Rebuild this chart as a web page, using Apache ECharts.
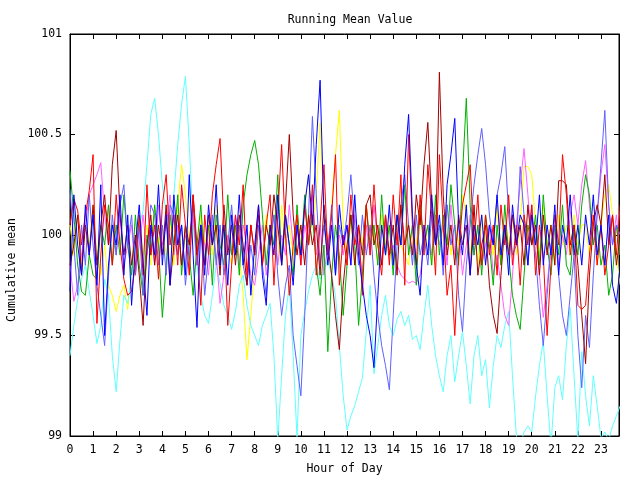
<!DOCTYPE html>
<html>
<head>
<meta charset="utf-8">
<script src="https://cdn.jsdelivr.net/npm/echarts@6/dist/echarts.min.js"></script>
<style>
html,body{margin:0;padding:0;background:#fff;}
#chart{width:640px;height:480px;}
</style>
</head>
<body>
<div id="chart"></div>
<script>
// samples every 10 minutes, hour = index / 6
var stepsPerHour = 6;
var hourTicks = [0,1,2,3,4,5,6,7,8,9,10,11,12,13,14,15,16,17,18,19,20,21,22,23];
var meanTicks = [99, 99.5, 100, 100.5, 101];

var red = [
100.05,100.18,100.12,99.95,100.10,100.22,100.40,99.56,99.90,100.15,100.05,99.85,
100.20,99.95,99.78,99.70,99.72,99.85,100.10,99.80,100.25,99.90,100.05,99.78,
100.15,100.30,99.95,100.10,99.85,100.25,100.05,99.80,100.20,99.95,99.65,100.10,
99.90,100.20,100.35,100.48,100.05,99.55,99.85,100.10,99.95,100.25,99.80,100.05,
99.90,100.15,99.85,100.05,100.20,99.75,100.10,100.45,100.00,99.70,99.95,100.10,
99.85,100.15,99.95,100.25,99.80,100.05,100.35,99.90,100.10,100.40,99.75,100.00,
99.85,100.20,99.95,100.05,99.70,100.15,99.90,100.25,99.95,99.80,100.10,99.85,
100.20,99.95,100.30,99.75,100.50,100.05,99.85,100.20,99.90,100.35,100.10,99.80,
100.40,100.05,99.70,99.85,99.50,99.90,100.15,100.25,100.35,99.95,100.20,99.85,
100.10,99.90,100.05,99.80,100.15,99.95,100.20,99.85,100.05,99.75,100.10,99.95,
100.15,99.80,100.05,99.90,99.50,99.85,100.10,99.95,100.40,100.20,99.90,100.05,
99.65,99.63,99.65,99.90,100.10,99.85,100.05,99.80,99.95,100.10,99.90,100.15];

var green = [
100.32,100.10,99.85,99.72,99.70,99.90,99.80,99.78,100.05,99.95,100.15,99.85,
100.05,99.90,100.20,99.95,99.80,100.10,99.85,99.70,100.00,99.90,100.15,99.95,
99.59,99.85,100.10,99.95,100.20,99.80,100.05,99.90,99.70,99.95,100.15,99.85,
100.05,99.75,100.10,99.95,99.85,100.20,99.90,100.05,99.80,100.15,100.30,100.40,
100.47,100.35,100.10,99.85,100.05,99.95,100.30,99.85,100.10,99.95,99.80,100.15,
99.90,100.20,99.95,100.10,99.85,99.70,99.95,99.42,99.80,100.05,99.90,99.60,
99.85,100.10,99.95,99.55,99.80,100.15,99.95,100.05,99.85,100.20,99.90,100.05,
99.80,100.10,99.95,100.25,99.90,100.05,99.75,100.15,99.95,100.05,99.85,100.20,
99.90,100.10,99.95,100.25,100.05,99.85,100.30,100.68,100.15,99.90,100.05,99.80,
100.10,99.95,99.75,100.05,99.85,100.15,99.90,99.70,99.60,99.53,99.80,100.05,
99.95,100.10,99.85,100.20,99.95,99.80,100.05,99.90,100.15,99.85,99.80,100.05,
99.90,100.15,100.30,100.20,99.95,100.05,99.85,99.95,99.70,99.80,100.05,99.90];

var blue = [
99.72,100.20,99.95,99.80,100.15,99.90,100.10,99.75,100.25,99.50,99.85,100.05,
99.95,100.20,99.80,100.10,99.65,99.95,100.15,99.85,99.60,100.05,99.90,100.25,
99.85,100.10,99.75,100.20,99.95,100.05,99.80,100.30,99.90,99.54,100.05,99.80,
100.15,99.95,100.25,99.85,100.05,99.75,100.10,99.90,100.20,99.85,100.05,99.70,
99.95,100.15,99.80,99.65,100.05,99.90,100.20,99.85,100.10,99.95,99.75,100.05,
99.90,100.15,100.30,100.05,100.45,100.77,100.10,99.85,100.05,99.80,100.15,99.95,
100.05,99.85,100.20,99.90,99.75,99.60,99.50,99.34,99.70,100.05,99.90,100.15,
99.85,100.10,99.95,100.35,100.60,100.10,99.85,99.70,100.05,99.90,100.20,99.95,
100.10,99.85,100.25,100.40,100.58,100.05,99.90,100.15,99.80,100.05,99.95,100.10,
99.85,100.05,99.95,100.20,99.90,100.05,99.80,100.15,99.95,100.10,100.05,99.85,
100.10,99.95,100.20,99.85,100.05,99.90,100.15,99.80,100.05,99.95,100.20,99.90,
100.05,99.85,100.10,99.95,100.20,99.90,100.05,99.85,100.10,99.75,99.66,99.85];

var magenta = [
99.85,99.67,99.75,99.90,100.05,100.20,100.25,100.30,100.36,100.10,99.95,100.05,
99.90,100.10,99.85,99.95,100.05,99.80,99.95,100.10,99.90,100.05,99.85,100.15,
99.95,100.05,100.20,99.90,100.05,99.85,100.00,99.90,100.10,99.85,100.05,99.95,
99.80,100.05,99.90,99.66,99.80,100.00,99.90,100.10,99.85,100.05,99.95,99.80,
99.75,99.90,100.05,99.80,99.95,100.10,99.85,100.00,99.90,100.15,99.95,100.05,
99.85,100.05,99.95,100.20,99.90,100.05,99.80,99.95,100.10,99.85,100.00,99.90,
100.05,99.85,100.10,99.95,99.80,100.05,99.90,100.15,99.95,99.85,100.05,99.90,
99.95,99.85,99.80,99.78,99.76,99.77,99.76,99.80,99.95,100.05,99.90,100.10,
99.95,100.05,99.85,100.15,99.90,100.05,99.80,99.95,100.10,99.90,100.05,99.85,
99.95,100.05,99.80,99.90,99.75,99.60,99.55,99.80,100.05,100.25,100.43,100.20,
99.95,100.05,99.80,99.59,99.75,99.95,100.05,99.85,100.00,99.90,100.10,100.20,
100.05,100.25,100.37,100.15,99.95,100.10,100.30,100.45,100.15,99.95,100.10,99.90];

var cyan = [
99.40,99.55,99.68,99.78,99.85,99.72,99.60,99.46,99.55,99.78,99.70,99.40,
99.22,99.48,99.70,99.66,99.80,99.95,100.05,100.12,100.35,100.60,100.68,100.50,
100.25,100.10,100.05,100.20,100.45,100.65,100.79,100.45,100.05,99.85,99.70,99.60,
99.56,99.70,99.85,99.76,99.65,99.60,99.53,99.62,99.75,99.80,99.65,99.55,
99.50,99.45,99.55,99.60,99.66,99.40,98.98,99.30,99.60,99.75,99.40,98.99,
99.50,99.62,99.72,99.80,99.85,99.78,99.82,99.88,99.80,99.70,99.45,99.20,
99.03,99.10,99.15,99.22,99.29,99.52,99.75,99.31,99.45,99.60,99.70,99.55,
99.50,99.58,99.62,99.55,99.60,99.48,99.50,99.43,99.60,99.75,99.55,99.40,
99.30,99.22,99.40,99.50,99.27,99.40,99.52,99.35,99.16,99.40,99.50,99.30,
99.38,99.14,99.35,99.50,99.44,99.55,99.62,99.30,99.00,98.95,99.02,99.05,
99.02,99.20,99.35,99.47,99.20,98.95,99.24,99.30,99.18,99.45,99.64,99.30,
98.98,99.42,99.20,99.05,99.30,99.15,98.99,99.02,98.98,99.05,99.10,99.15];

var darkred = [
99.85,99.95,100.10,99.80,100.05,99.90,100.15,99.85,100.05,100.20,99.95,100.35,
100.52,100.10,99.90,100.05,99.85,100.00,99.80,99.55,99.95,100.10,99.85,100.05,
99.90,100.15,99.75,99.95,100.10,99.85,100.05,99.95,100.20,99.90,100.05,99.85,
100.10,99.95,100.05,99.80,100.15,99.90,100.05,99.85,100.10,99.95,99.75,100.05,
99.90,100.10,99.85,100.05,99.95,100.20,100.05,99.85,100.15,100.50,100.10,99.90,
100.05,99.85,100.10,99.95,100.05,99.80,100.15,99.95,99.80,99.60,99.43,99.75,
99.95,100.10,99.85,100.05,99.90,100.15,100.20,99.95,100.05,99.85,100.10,99.90,
100.05,99.80,100.15,99.95,100.05,99.90,100.20,100.05,100.35,100.56,100.15,99.95,
100.81,100.20,99.90,100.05,99.85,100.10,99.95,100.05,99.80,100.15,99.80,99.95,
100.05,99.75,99.60,99.51,99.80,100.05,99.90,100.10,99.95,100.05,99.85,100.15,
99.95,100.05,99.80,100.10,99.90,100.05,99.85,100.27,100.27,100.25,99.95,100.05,
99.85,99.60,99.36,99.80,100.05,100.15,100.05,100.30,99.95,100.10,99.85,100.00];

var yellow = [
100.05,99.90,100.10,99.85,100.05,99.95,100.15,99.90,99.80,99.95,99.75,99.70,
99.62,99.70,99.75,99.63,99.80,99.95,100.10,99.90,100.05,99.85,100.15,99.95,
100.05,99.90,100.10,99.85,100.15,100.35,100.20,99.95,100.05,99.85,100.10,99.95,
100.05,99.90,100.15,99.85,100.05,99.95,99.85,100.05,99.90,99.70,99.38,99.60,
99.85,100.05,99.90,100.10,99.95,100.05,99.85,100.15,99.95,100.05,99.90,100.10,
99.95,100.15,100.30,100.05,100.20,100.56,100.10,99.90,100.15,100.40,100.62,100.05,
99.90,100.10,99.85,100.05,99.95,100.15,99.90,100.05,99.85,100.10,99.95,100.05,
99.90,100.10,99.95,99.90,99.85,100.05,99.95,100.15,99.90,100.05,99.85,100.10,
99.95,100.05,100.15,99.90,100.05,99.95,100.20,100.10,99.90,100.05,99.85,100.10,
99.95,100.05,99.90,100.15,99.85,100.05,99.95,100.10,99.90,100.05,100.34,100.34,
100.30,100.05,99.90,100.15,99.95,100.05,99.85,100.10,99.95,100.05,99.90,100.10,
99.95,100.05,100.05,99.90,100.10,99.85,100.05,100.20,100.25,100.10,99.90,99.75];

var slate = [
100.23,99.95,99.70,100.05,99.85,100.20,99.95,99.75,99.60,99.45,99.80,100.10,
99.90,100.15,100.25,99.95,100.10,99.80,100.05,99.70,99.90,100.15,100.10,99.85,
100.05,99.80,100.15,100.10,99.90,100.05,99.75,99.95,100.15,99.85,100.05,99.70,
99.90,100.10,99.85,100.05,99.80,99.95,100.15,99.90,100.05,99.85,99.75,99.95,
99.80,100.05,99.85,99.70,99.95,100.10,99.80,99.60,99.75,99.85,99.50,99.35,
99.20,99.60,100.10,100.59,100.20,99.85,100.05,99.90,100.15,99.80,100.05,99.95,
100.10,100.30,100.05,99.85,100.10,99.90,100.05,99.80,99.60,99.45,99.35,99.23,
99.60,99.95,100.15,100.30,100.05,99.85,100.10,99.90,100.00,99.85,100.10,99.95,
100.05,99.80,100.15,99.95,100.05,99.70,99.52,99.85,100.05,100.25,100.40,100.53,
100.35,100.10,99.95,100.20,100.30,100.44,100.10,99.90,99.95,100.34,100.10,99.85,
100.15,99.90,99.65,99.45,99.70,99.95,100.05,99.80,99.60,99.50,99.70,99.90,
99.50,99.24,99.60,99.44,99.80,100.10,100.35,100.62,100.15,99.95,100.05,100.00];

// drawing order: first listed lies underneath
var seriesList = [
    {name:'yellow', data:yellow, color:'#ffff00'},
    {name:'cyan', data:cyan, color:'#60ffff'},
    {name:'magenta', data:magenta, color:'#ff60ff'},
    {name:'green', data:green, color:'#00b000'},
    {name:'slate', data:slate, color:'#6060ff'},
    {name:'darkred', data:darkred, color:'#a00000'},
    {name:'red', data:red, color:'#ff0000'},
    {name:'blue', data:blue, color:'#0000ff'}
];

var font = 'DejaVu Sans Mono';
var myChart = echarts.init(document.getElementById('chart'));

function toPairs(arr) {
    var out = [];
    for (var i = 0; i < arr.length; i++) {
        out.push([i / stepsPerHour, arr[i]]);
    }
    return out;
}

var axisBase = {
    type: 'value',
    axisLine: {show: true, onZero: false, lineStyle: {color: '#000', width: 1}},
    axisTick: {show: true, inside: true, length: 5, lineStyle: {color: '#000'}},
    splitLine: {show: false}
};

function xAxisDef(pos, showLabel) {
    return Object.assign({}, axisBase, {
        position: pos, min: 0, max: 23.78, interval: 1,
        axisLabel: {
            show: showLabel, margin: 8, color: '#000', fontFamily: font, fontSize: 11.5,
            formatter: function (v) { return hourTicks.indexOf(v) >= 0 ? String(v) : ''; }
        }
    });
}
function yAxisDef(pos, showLabel) {
    return Object.assign({}, axisBase, {
        position: pos, min: meanTicks[0], max: meanTicks[meanTicks.length - 1], interval: 0.5,
        axisLabel: {
            show: showLabel, margin: 8, color: '#000', fontFamily: font, fontSize: 11.5,
            formatter: function (v) { return meanTicks.indexOf(v) >= 0 ? String(v) : ''; }
        }
    });
}

var xTop = xAxisDef('top', false);
var xBottom = xAxisDef('bottom', true);
xBottom.name = 'Hour of Day';
xBottom.nameLocation = 'middle';
xBottom.nameGap = 27;
xBottom.nameTextStyle = {color: '#000', fontFamily: font, fontSize: 11.5};

option = {
    animation: false,
    backgroundColor: '#fff',
    title: {
        text: 'Running Mean Value',
        left: 345, top: 9, textAlign: 'center',
        textStyle: {color: '#000', fontFamily: font, fontSize: 11.5, fontWeight: 'normal'}
    },
    grid: {left: 70, right: 21, top: 34, bottom: 37, containLabel: false,
        show: true, borderColor: '#000', borderWidth: 1, backgroundColor: 'transparent'},
    xAxis: [xBottom, xTop],
    yAxis: [yAxisDef('left', true), yAxisDef('right', false)],
    graphic: [{
        type: 'text', x: 12, y: 270, rotation: Math.PI / 2,
        style: {text: 'Cumulative mean', fill: '#000', font: '11.5px "DejaVu Sans Mono"',
            textAlign: 'center', textVerticalAlign: 'middle'}
    }],
    series: seriesList.map(function (s) {
        return {
            name: s.name, type: 'line', data: toPairs(s.data),
            xAxisIndex: 0, yAxisIndex: 0,
            showSymbol: false, symbol: 'none', clip: true,
            lineStyle: {color: s.color, width: 1},
            itemStyle: {color: s.color}
        };
    })
};
myChart.setOption(option, true);
</script>
</body>
</html>
